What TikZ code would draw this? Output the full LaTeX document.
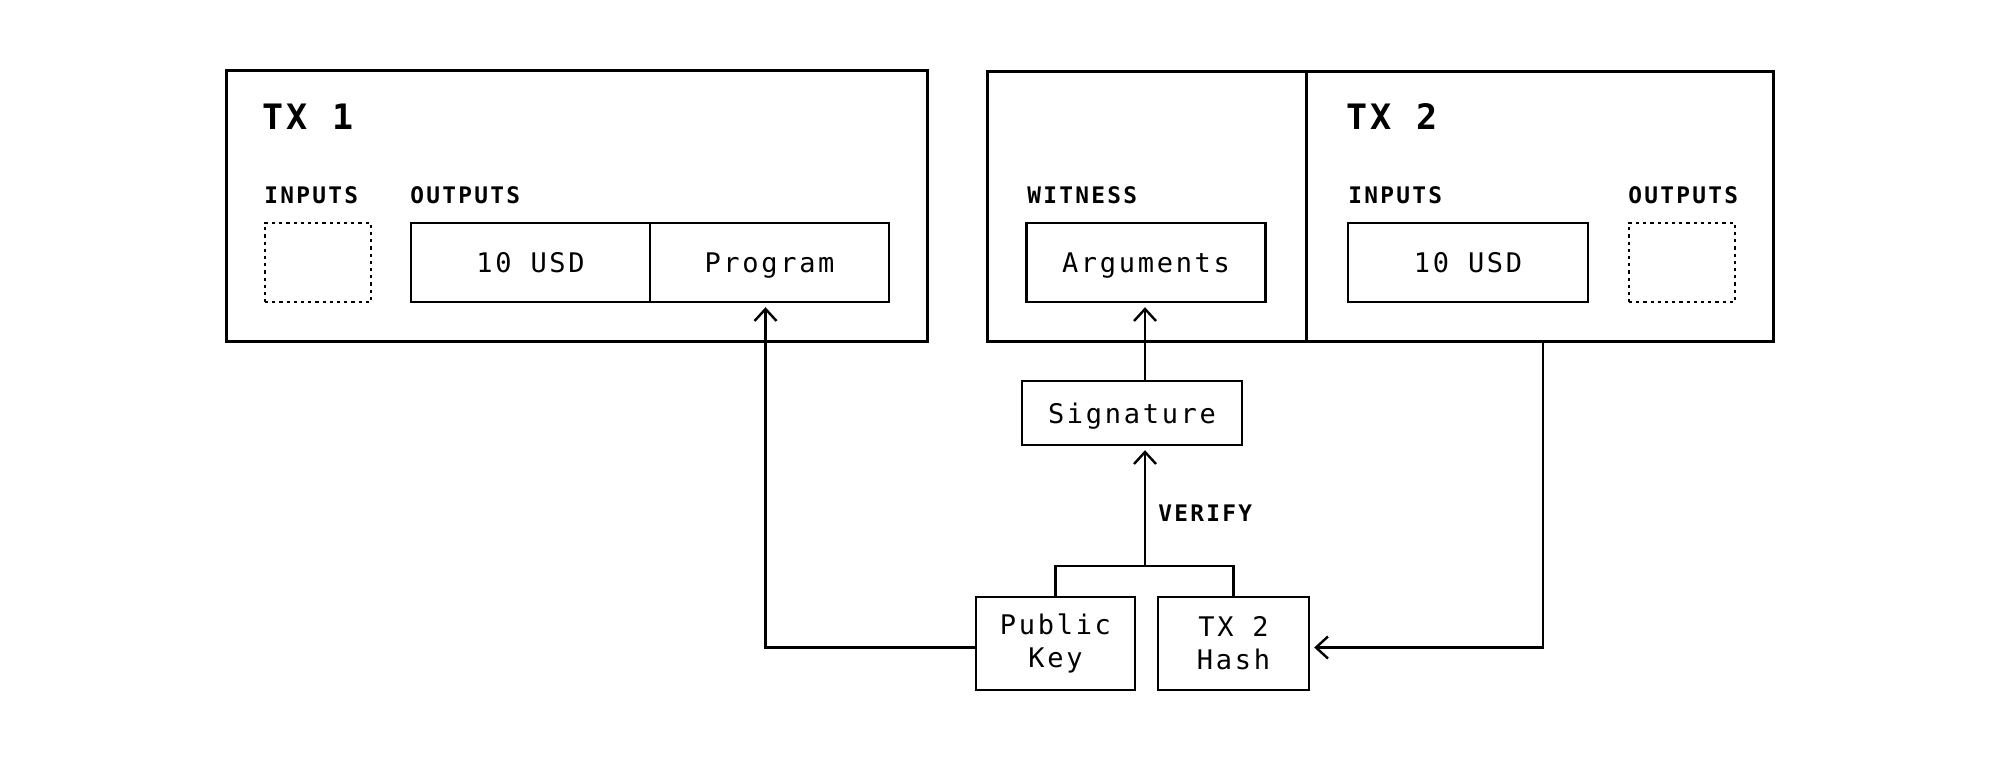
\documentclass[tikz,border=0pt]{standalone}
\usepackage{fontspec}
\usetikzlibrary{arrows.meta,positioning}
\newfontfamily\monofont[LetterSpace=10]{DejaVu Sans Mono}
\newcommand{\boxfont}{\monofont\fontsize{13.5}{16.5}\selectfont}
\newcommand{\lblfont}{\monofont\bfseries\fontsize{11.4}{13}\selectfont}
\newcommand{\titlefont}{\monofont\bfseries\fontsize{17.5}{20}\selectfont}
\tikzset{
    frame/.style={
    rectangle,draw=black,line width=1.5pt,inner sep=0pt
    },
    field/.style={
    rectangle,draw=black,line width=1.2pt,inner sep=0pt,font=\boxfont,align=center,
    minimum width=119.5pt,minimum height=39.5pt
    },
    onefield/.style={
    field,text height=10pt,text depth=0pt
    },
    emptyfield/.style={
    field,dash pattern=on 1.6pt off 2pt,minimum width=53pt
    },
    lbl/.style={
    anchor=west,inner sep=0pt,font=\lblfont
    },
    title/.style={
    anchor=west,inner sep=0pt,font=\titlefont
    },
    link/.style={
    line width=1.2pt
    },
    flow/.style={
    link,-{Straight Barb[length=6pt,width=11pt]},shorten >=2pt
    },
}
\begin{document}
\begin{tikzpicture}[x=0.5pt, y=-0.5pt]
   \useasboundingbox (0,0) rectangle (2000,762);

   % first transaction
   \node[frame, minimum width=350.5pt, minimum height=135.5pt] (tx1) at (576.5,205.5) {};
   \node[title] (title1) at (262,117) {TX 1};
   \node[lbl] (in1lbl) at (264,195) {INPUTS};
   \node[emptyfield] (in1) at (318,262.5) {};
   \node[lbl] (out1lbl) at (410,195) {OUTPUTS};
   \node[onefield] (usd1) at (530.5,262.5) {10 USD};
   \node[onefield] (prog) at (769.5,262.5) {Program};

   % second transaction
   \node[frame, minimum width=393pt, minimum height=135pt] (tx2) at (1380,206) {};
   \draw[link, line width=1.5pt] ([xshift=-37pt]tx2.north) -- ([xshift=-37pt]tx2.south);
   \node[lbl] (witlbl) at (1027,195) {WITNESS};
   \node[onefield] (args) at (1146,262.5) {Arguments};
   \node[title] (title2) at (1346,117) {TX 2};
   \node[lbl] (in2lbl) at (1348,195) {INPUTS};
   \node[onefield, minimum width=120pt] (usd2) at (1468,262.5) {10 USD};
   \node[lbl] (out2lbl) at (1628,195) {OUTPUTS};
   \node[emptyfield] (out2) at (1682,262.5) {};

   % verification
   \node[onefield, minimum width=110pt, minimum height=32pt] (sig) at (1132,413) {Signature};
   \node[field, minimum width=79.5pt, minimum height=46.5pt] (pubkey) at (1055.5,643.5) {Public\\Key};
   \node[field, minimum width=75.5pt, minimum height=46.5pt] (hash) at (1233.5,643.5) {TX 2\\Hash};
   \coordinate (junc) at (1145,566);
   \node[lbl] (verify) at (1158,513) {VERIFY};

   \draw[link] (pubkey.north) |- (junc) -| (hash.north);
   \draw[flow] (junc) -- (junc |- sig.south);
   \draw[flow] (sig.north -| junc) -- (junc |- args.south);
   \draw[flow] ([yshift=-2pt]pubkey.west) -| ([xshift=-2pt]prog.south);
   \draw[flow] ([xshift=81.5pt]tx2.south) |- ([yshift=-2pt]hash.east);
\end{tikzpicture}
\end{document}
